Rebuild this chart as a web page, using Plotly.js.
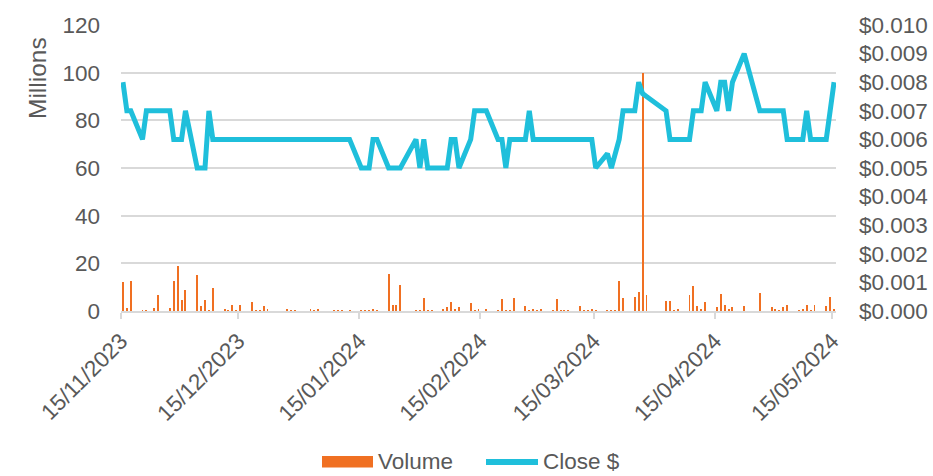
<!DOCTYPE html>
<html>
<head>
<meta charset="utf-8">
<script src="https://cdn.plot.ly/plotly-3.0.1.min.js"></script>
<style>html,body{margin:0;padding:0;background:#fff;}#chart{width:933px;height:476px;}</style>
</head>
<body>
<div id="chart"></div>
<script>
// Trading days
const dates = [
 '2023-11-15','2023-11-16','2023-11-17','2023-11-20','2023-11-21','2023-11-22','2023-11-23','2023-11-24','2023-11-27','2023-11-28','2023-11-29','2023-11-30',
 '2023-12-01','2023-12-04','2023-12-05','2023-12-06','2023-12-07','2023-12-08','2023-12-11','2023-12-12','2023-12-13','2023-12-14','2023-12-15','2023-12-18','2023-12-19','2023-12-20','2023-12-21','2023-12-22','2023-12-27','2023-12-28','2023-12-29',
 '2024-01-02','2024-01-03','2024-01-04','2024-01-05','2024-01-08','2024-01-09','2024-01-10','2024-01-11','2024-01-12','2024-01-15','2024-01-16','2024-01-17','2024-01-18','2024-01-19','2024-01-22','2024-01-23','2024-01-24','2024-01-25','2024-01-29','2024-01-30','2024-01-31',
 '2024-02-01','2024-02-02','2024-02-05','2024-02-06','2024-02-07','2024-02-08','2024-02-09','2024-02-12','2024-02-13','2024-02-14','2024-02-15','2024-02-16','2024-02-19','2024-02-20','2024-02-21','2024-02-22','2024-02-23','2024-02-26','2024-02-27','2024-02-28','2024-02-29',
 '2024-03-01','2024-03-04','2024-03-05','2024-03-06','2024-03-07','2024-03-08','2024-03-11','2024-03-12','2024-03-13','2024-03-14','2024-03-15','2024-03-18','2024-03-19','2024-03-20','2024-03-21','2024-03-22','2024-03-25','2024-03-26','2024-03-27','2024-03-28',
 '2024-04-02','2024-04-03','2024-04-04','2024-04-05','2024-04-08','2024-04-09','2024-04-10','2024-04-11','2024-04-12','2024-04-15','2024-04-16','2024-04-17','2024-04-18','2024-04-19','2024-04-22','2024-04-23','2024-04-24','2024-04-26','2024-04-29','2024-04-30',
 '2024-05-01','2024-05-02','2024-05-03','2024-05-06','2024-05-07','2024-05-08','2024-05-09','2024-05-10','2024-05-13','2024-05-14','2024-05-15'
];
// Volume in millions
const volume = [
 12.0,1.4,12.6,0.3,0.3,0,1.4,6.6,1.4,12.6,18.8,4.8,
 8.7,15.0,2.0,4.8,0.3,9.8,1.0,0.3,2.7,0.3,2.7,3.6,0.3,0.3,2.0,0.8,1.0,0.3,0.3,
 1.0,0.3,1.0,0,0.3,0.3,0.3,0,0.3,0.3,0.3,0.3,1.0,0.3,15.4,2.7,2.7,11.1,0.3,0.3,5.3,
 0.3,0.3,1.0,1.5,3.6,1.0,1.5,3.2,0.3,1.0,0,1.0,0.3,4.9,0.3,0.3,5.3,2.0,0.3,1.0,0.3,
 1.0,0.3,4.9,0.3,0.3,0.3,2.0,0.3,0.3,1.0,0.3,0.3,0.3,0.3,12.6,5.3,5.9,8.1,100,6.6,
 4.2,4.2,0.3,1.0,6.6,10.4,2.0,1.0,3.6,1.5,7.0,2.4,1.0,1.5,2.0,0,0,7.7,1.5,1.0,
 0.3,1.5,2.7,0.3,1.0,2.7,0.3,2.7,2.0,6.0,1.0
];
// Close price $
const close = [
 0.008,0.007,0.007,0.006,0.007,0.007,0.007,0.007,0.007,0.006,0.006,0.006,
 0.007,0.005,0.005,0.005,0.007,0.006,0.006,0.006,0.006,0.006,0.006,0.006,0.006,0.006,0.006,0.006,0.006,0.006,0.006,
 0.006,0.006,0.006,0.006,0.006,0.006,0.006,0.006,0.006,0.005,0.005,0.005,0.006,0.006,0.005,0.005,0.005,0.005,0.006,0.005,0.006,
 0.005,0.005,0.005,0.005,0.006,0.006,0.005,0.006,0.007,0.007,0.007,0.007,0.006,0.006,0.005,0.006,0.006,0.006,0.007,0.006,0.006,
 0.006,0.006,0.006,0.006,0.006,0.006,0.006,0.006,0.006,0.006,0.005,0.0055,0.005,0.0055,0.006,0.007,0.007,0.008,0.0076,0.0075,
 0.007,0.006,0.006,0.006,0.006,0.007,0.007,0.007,0.008,0.007,0.008,0.008,0.007,0.008,0.009,0.0085,0.008,0.007,0.007,0.007,
 0.007,0.007,0.006,0.006,0.006,0.007,0.006,0.006,0.006,0.007,0.008
];
const tickVals = ['2023-11-15','2023-12-15','2024-01-15','2024-02-15','2024-03-15','2024-04-15','2024-05-15'];
const tickText = ['15/11/2023','15/12/2023','15/01/2024','15/02/2024','15/03/2024','15/04/2024','15/05/2024'];
const seriesNames = ['Volume', 'Close $'];

const FONT = 'Liberation Sans, Arial, sans-serif';
const GREY = '#595959';
const GRID = '#d9d9d9';
const ORANGE = '#F07022';
const TEAL = '#1FBFDB';
const FS = 22.5;

// Excel date axis "between tick marks": each day's mark sits mid-day
const xMid = dates.map(d => d + ' 12:00');

const traces = [
 {type:'bar', x:xMid, y:volume, name:seriesNames[0], yaxis:'y', showlegend:false,
  marker:{color:ORANGE, line:{width:0}}, width:0.5*86400000},
 {type:'scatter', mode:'lines', x:xMid, y:close, name:seriesNames[1], yaxis:'y2', showlegend:false,
  line:{color:TEAL, width:5}}
];

// plot area: x 121..836, y 25..311
const PW = 715, PH = 286;
const px = v => (v - 121) / PW;
const py = v => (311 - v) / PH;
const LEG_Y = 461.5; // legend row centre (pixels)

const layout = {
 width:933, height:476,
 margin:{l:121, r:97, t:25, b:165},
 paper_bgcolor:'#fff', plot_bgcolor:'#fff',
 font:{family:FONT, size:FS, color:GREY},
 showlegend:false,
 bargap:0,
 xaxis:{type:'date', range:['2023-11-15','2024-05-16'], tickvals:tickVals, ticktext:tickText,
   tickangle:-45, ticks:'outside', ticklen:6, tickcolor:GRID, tickwidth:2,
   showline:true, linecolor:GRID, linewidth:2, showgrid:false, zeroline:false,
   tickfont:{size:FS, color:GREY}},
 yaxis:{range:[0,120], dtick:20, showgrid:true, gridcolor:GRID, gridwidth:2, zeroline:false,
   showline:false, ticks:'', tickfont:{size:FS, color:GREY}, ticklabelstandoff:20},
 yaxis2:{overlaying:'y', side:'right', range:[0,0.010], dtick:0.001, tickformat:'$.3f',
   showgrid:false, zeroline:false, showline:false, ticks:'', tickfont:{size:FS, color:GREY}, ticklabelstandoff:22},
 annotations:[
  {text:'Millions', xref:'paper', yref:'paper', x:px(37), y:py(78), textangle:-90,
   showarrow:false, font:{size:24.5, color:GREY}, xanchor:'center', yanchor:'middle'},
  {text:seriesNames[0], xref:'paper', yref:'paper', x:px(377), y:py(LEG_Y), xanchor:'left', yanchor:'middle',
   borderpad:0, showarrow:false, font:{size:FS, color:GREY}},
  {text:seriesNames[1], xref:'paper', yref:'paper', x:px(542), y:py(LEG_Y), xanchor:'left', yanchor:'middle',
   borderpad:0, showarrow:false, font:{size:FS, color:GREY}}
 ],
 shapes:[
  {type:'rect', xref:'paper', yref:'paper', x0:px(322), x1:px(373), y0:py(LEG_Y+6), y1:py(LEG_Y-5.5),
   fillcolor:ORANGE, line:{width:0}},
  {type:'line', xref:'paper', yref:'paper', x0:px(486), x1:px(538), y0:py(LEG_Y+0.5), y1:py(LEG_Y+0.5),
   line:{color:TEAL, width:6}}
 ]
};

Plotly.newPlot('chart', traces, layout, {displayModeBar:false, staticPlot:true});
</script>
</body>
</html>
